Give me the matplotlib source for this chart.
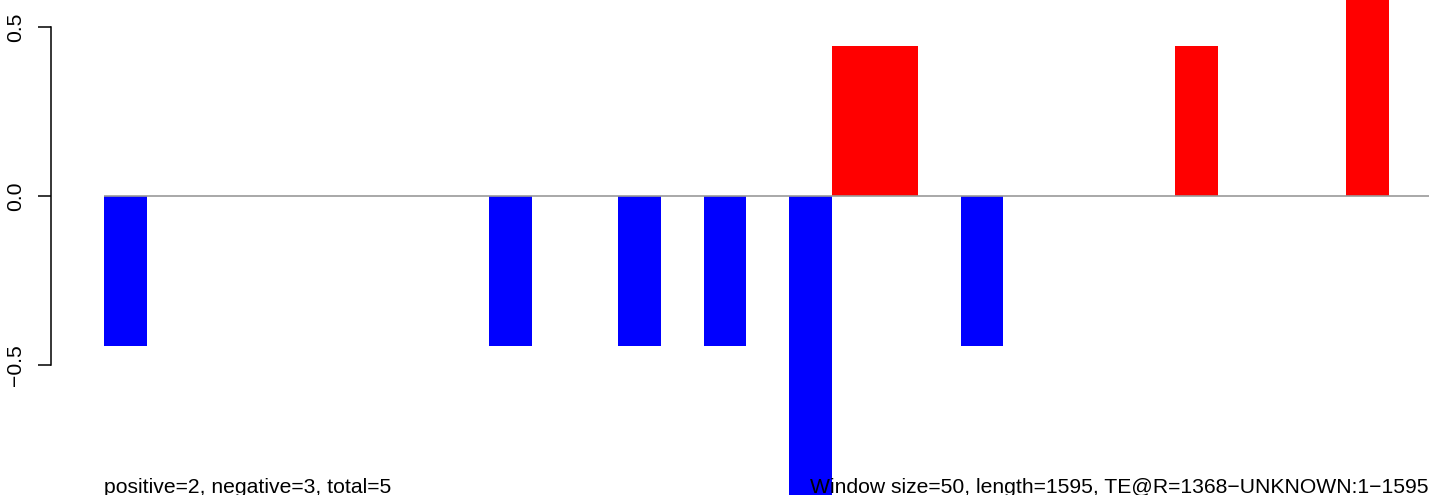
import numpy as np
import matplotlib.pyplot as plt

plt.rcParams['font.family'] = ['Liberation Sans', 'DejaVu Sans']

# window scores (32 windows of size 50 over length 1595)
scores = np.zeros(32)
neg_windows = [0, 9, 12, 14, 20]
neg_value = -0.444
deep_neg_window = 16
deep_neg_value = -0.889
pos_windows = [17, 18, 25]
pos_value = 0.444
deep_pos_window = 29
deep_pos_value = 0.889

scores[neg_windows] = neg_value
scores[deep_neg_window] = deep_neg_value
scores[pos_windows] = pos_value
scores[deep_pos_window] = deep_pos_value

colors = ['red' if s > 0 else 'blue' for s in scores]

W, H = 1429, 495
fig = plt.figure(figsize=(W / 100, H / 100), dpi=100)
ax = fig.add_axes([51 / W, 0, 1 - 51 / W, 1])

x = np.arange(len(scores))
ax.bar(x, scores, width=1.0, align='edge', color=colors, linewidth=0)
ax.hlines(0, 0, len(scores), color='#9a9a9a', linewidth=1.2, zorder=3)

bw = 42.83
ax.set_xlim((51 - 104) / bw, (W - 104) / bw)
ax.set_ylim(-(H - 196) / 338, 196 / 338)

ax.set_yticks([-0.5, 0.0, 0.5])
ax.set_yticklabels(['\u22120.5', '0.0', '0.5'], rotation=90, va='center', fontsize=15.2)
ax.tick_params(axis='y', length=9.4, width=1.1, pad=9)
ax.set_xticks([])
for s in ['top', 'right', 'bottom']:
    ax.spines[s].set_visible(False)
ax.spines['left'].set_bounds(-0.5, 0.5)
ax.spines['left'].set_linewidth(1.1)

fig.text(104 / W, 1 - 493 / H, 'positive=2, negative=3, total=5',
         fontsize=15.25, va='baseline', ha='left')
fig.text(810 / W, 1 - 493 / H,
         'Window size=50, length=1595, TE@R=1368\u2212UNKNOWN:1\u22121595',
         fontsize=15.25, va='baseline', ha='left')

fig.savefig('out.png', dpi=100)
